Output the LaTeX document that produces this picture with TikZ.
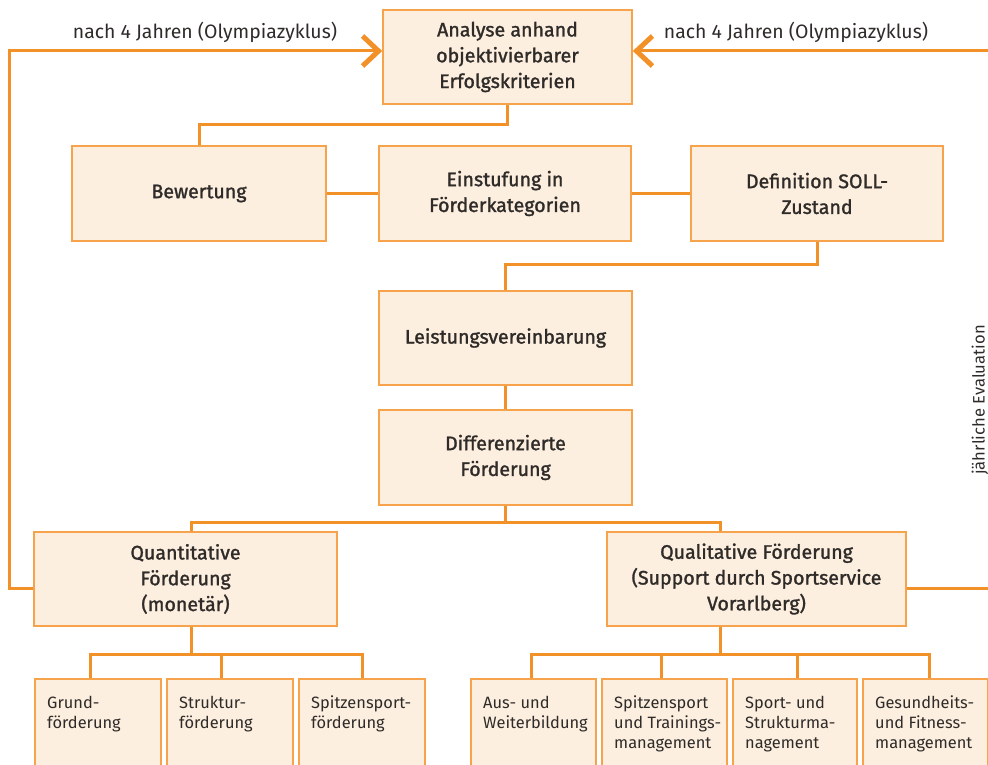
\documentclass[tikz,border=0pt]{standalone}
\usepackage{fontspec}
\setmainfont{Fira Sans}
\newfontfamily\semifont{Fira Sans}[FakeBold=1.4]
\usetikzlibrary{arrows.meta}
\definecolor{linie}{HTML}{F39129}
\definecolor{rand}{HTML}{F7A34B}
\definecolor{fuell}{HTML}{FDEFDF}
\definecolor{schrift}{HTML}{2E2B29}
\begin{document}
\begin{tikzpicture}[x=1pt,y=-1pt,
  box/.style={draw=rand, fill=fuell, line width=1.6pt, inner sep=0pt,
    text=schrift, align=center, font=\semifont\fontsize{19.6}{25.8}\selectfont},
  leaf/.style={draw=rand, fill=fuell, line width=1.6pt, inner sep=0pt,
    minimum height=130pt, anchor=north west},
  leaftext/.style={anchor=north west, xshift=13pt, yshift=-18pt, inner sep=0pt,
    align=left, text=schrift, font=\fontsize{16.4}{20}\selectfont},
  lbl/.style={text=schrift, inner sep=0pt, font=\fontsize{19.4}{23}\selectfont},
  conn/.style={draw=linie, line width=3pt},
  loop/.style={conn, -{Straight Barb[length=16pt, width=30pt, line width=5pt]}}
]
\useasboundingbox (0,0) rectangle (988,765);
\clip (0,0) rectangle (988,765);

% main process boxes
\node[box, minimum width=249pt, minimum height=94pt] (analyse) at (507.5,57)
  {Analyse anhand\\objektivierbarer\\Erfolgskriterien};
\node[box, minimum width=254pt, minimum height=95pt] (bewertung) at (199,193.5) {Bewertung};
\node[box, minimum width=252pt, minimum height=95pt] (einstufung) at (505,193.5)
  {Einstufung in\\Förderkategorien};
\node[box, minimum width=252pt, minimum height=95pt] (definition) at (817,193.5)
  {Definition SOLL-\\Zustand};
\node[box, minimum width=253pt, minimum height=94pt] (leistung) at (505.5,338)
  {Leistungsvereinbarung};
\node[box, minimum width=253pt, minimum height=95pt] (diff) at (505.5,457.5)
  {Differenzierte\\Förderung};
\node[box, minimum width=303pt, minimum height=94pt] (quant) at (185.5,579)
  {Quantitative\\Förderung\\(monetär)};
\node[box, minimum width=299pt, minimum height=94pt] (qual) at (756.5,579)
  {Qualitative Förderung\\(Support durch Sportservice\\Vorarlberg)};

% leaf boxes
\node[leaf, minimum width=126pt, label={[leaftext]north west:{Grund-\\förderung}}] (grund) at (34,678) {};
\node[leaf, minimum width=126pt, label={[leaftext]north west:{Struktur-\\förderung}}] (struktur) at (166,678) {};
\node[leaf, minimum width=126pt, label={[leaftext]north west:{Spitzensport-\\förderung}}] (spitzen) at (298,678) {};
\node[leaf, minimum width=125pt, label={[leaftext]north west:{Aus- und\\Weiterbildung}}] (aus) at (470,678) {};
\node[leaf, minimum width=125pt, label={[leaftext]north west:{Spitzensport\\und Trainings-\\management}}] (training) at (601,678) {};
\node[leaf, minimum width=124pt, label={[leaftext]north west:{Sport- und\\Strukturma-\\nagement}}] (sport) at (732,678) {};
\node[leaf, minimum width=125pt, label={[leaftext]north west:{Gesundheits-\\und Fitness-\\management}}] (fitness) at (862,678) {};

% loop labels
\node[lbl] (lblL) at (205,32) {nach 4 Jahren (Olympiazyklus)};
\node[lbl] (lblR) at (796,32) {nach 4 Jahren (Olympiazyklus)};
\node[lbl, rotate=90, font=\fontsize{16.6}{20}\selectfont] (lblE) at (980,400) {jährliche Evaluation};

% connectors between the process steps
\draw[conn] (analyse.south) -- ++(0,20) -| (bewertung.north);
\draw[conn] (bewertung.east) -- (einstufung.west);
\draw[conn] (einstufung.east) -- (definition.west);
\draw[conn] (definition.south) -- ++(0,23) -| (leistung.north);
\draw[conn] (leistung.south) -- (diff.north);

\coordinate (qa) at (191,522);
\coordinate (qb) at (720,522);
\draw[conn] (diff.south) -- (diff.south |- qa);
\draw[conn] (qa |- quant.north) -- (qa) -- (qb) -- (qb |- qual.north);

% quantitative branch
\coordinate (qt) at (191,654);
\coordinate (g1) at (90,654);
\coordinate (g2) at (221,654);
\coordinate (g3) at (362,654);
\draw[conn] (qt |- quant.south) -- (qt);
\draw[conn] (g1 |- grund.north) -- (g1) -- (g3) -- (g3 |- spitzen.north);
\draw[conn] (g2) -- (g2 |- struktur.north);

% qualitative branch
\coordinate (rt) at (720,654);
\coordinate (r1) at (531,654);
\coordinate (r2) at (661,654);
\coordinate (r3) at (797,654);
\coordinate (r4) at (929,654);
\draw[conn] (rt |- qual.south) -- (rt);
\draw[conn] (r1 |- aus.north) -- (r1) -- (r4) -- (r4 |- fitness.north);
\draw[conn] (r2) -- (r2 |- training.north);
\draw[conn] (r3) -- (r3 |- sport.north);

% feedback loops back to the analysis
\coordinate (lq) at (9,588);
\coordinate (lt) at (9,51);
\draw[loop] (quant.west |- lq) -- (lq) -- (lt) -- (analyse.west |- lt);
\coordinate (rq) at (996,588);
\coordinate (rtop) at (996,51);
\draw[loop] (qual.east |- rq) -- (rq) -- (rtop) -- (analyse.east |- rtop);
\end{tikzpicture}
\end{document}
